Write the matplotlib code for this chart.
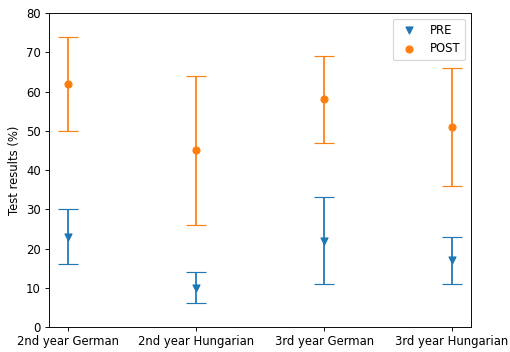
import matplotlib
matplotlib.use("Agg")
import matplotlib.pyplot as plt

groups = ["2nd year German", "2nd year Hungarian", "3rd year German", "3rd year Hungarian"]
pre_mean = [23, 10, 22, 17]
pre_err = [7, 4, 11, 6]
post_mean = [62, 45, 58, 51]
post_err = [12, 19, 11, 15]

DPI = 84
fig = plt.figure(figsize=(510 / DPI, 352 / DPI), dpi=DPI)
ax = fig.add_axes([0.096, 0.071, 0.828, 0.892])

x = list(range(len(groups)))
ax.errorbar(x, pre_mean, yerr=pre_err, fmt="none", ecolor="C0", capsize=8.5)
ax.scatter(x, pre_mean, marker="v", color="C0", label="PRE", zorder=3)
ax.errorbar(x, post_mean, yerr=post_err, fmt="none", ecolor="C1", capsize=8.5)
ax.scatter(x, post_mean, marker="o", color="C1", label="POST", zorder=3)

ax.set_xticks(x)
ax.set_xticklabels(groups)
ax.set_ylim(0, 80)
ax.set_ylabel("Test results (%)")
ax.legend(loc="upper right")

fig.savefig("out.png", dpi=DPI)
